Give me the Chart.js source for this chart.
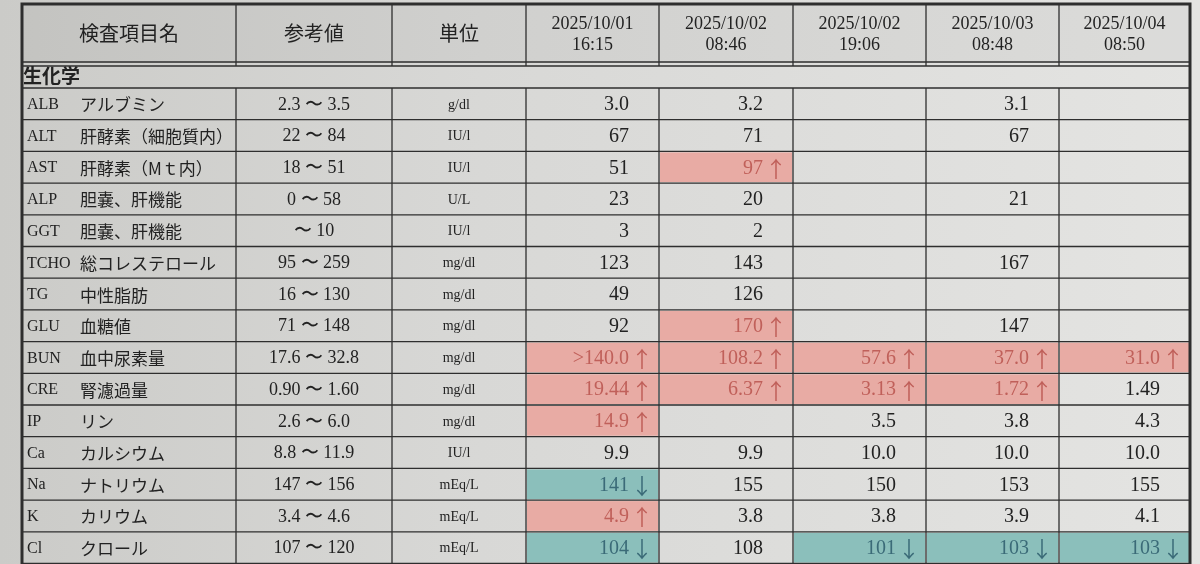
<!DOCTYPE html>
<html><head><meta charset="utf-8">
<script src="https://cdn.jsdelivr.net/npm/chart.js@4/dist/chart.umd.min.js"></script>
<style>
html,body{margin:0;padding:0;background:#dcdcda;}
#wrap{width:1200px;height:564px;background:linear-gradient(90deg,#cbcbc8 0%,#d8d8d6 40%,#e4e4e2 100%);}
</style></head><body>
<div id="wrap"><canvas id="c" width="1200" height="564"></canvas></div>
<script>
// ---- data ----
const headerLabels = ['検査項目名','参考値','単位'];
const dateLabels = [['2025/10/01','16:15'],['2025/10/02','08:46'],['2025/10/02','19:06'],['2025/10/03','08:48'],['2025/10/04','08:50']];
const sectionTitle = '生化学';
const codes = ['ALB','ALT','AST','ALP','GGT','TCHO','TG','GLU','BUN','CRE','IP','Ca','Na','K','Cl'];
const names = ['アルブミン','肝酵素（細胞質内）','肝酵素（Mｔ内）','胆嚢、肝機能','胆嚢、肝機能','総コレステロール','中性脂肪','血糖値','血中尿素量','腎濾過量','リン','カルシウム','ナトリウム','カリウム','クロール'];
const refRanges = ['2.3 〜 3.5','22 〜 84','18 〜 51','0 〜 58','〜 10','95 〜 259','16 〜 130','71 〜 148','17.6 〜 32.8','0.90 〜 1.60','2.6 〜 6.0','8.8 〜 11.9','147 〜 156','3.4 〜 4.6','107 〜 120'];
const units = ['g/dl','IU/l','IU/l','U/L','IU/l','mg/dl','mg/dl','mg/dl','mg/dl','mg/dl','mg/dl','IU/l','mEq/L','mEq/L','mEq/L'];
const values1 = ['3.0','67','51','23','3','123','49','92','>140.0','19.44','14.9','9.9','141','4.9','104'];
const values2 = ['3.2','71','97','20','2','143','126','170','108.2','6.37','','9.9','155','3.8','108'];
const values3 = ['','','','','','','','','57.6','3.13','3.5','10.0','150','3.8','101'];
const values4 = ['3.1','67','','21','','167','','147','37.0','1.72','3.8','10.0','153','3.9','103'];
const values5 = ['','','','','','','','','31.0','1.49','4.3','10.0','155','4.1','103'];
const flags1 = ['','','','','','','','','H','H','H','','L','H','L'];
const flags2 = ['','','H','','','','','H','H','H','','','','',''];
const flags3 = ['','','','','','','','','H','H','','','','','L'];
const flags4 = ['','','','','','','','','H','H','','','','','L'];
const flags5 = ['','','','','','','','','H','','','','','','L'];
const valueCols = [values1,values2,values3,values4,values5];
const flagCols = [flags1,flags2,flags3,flags4,flags5];

// ---- layout (style) ----
const colEdges = [22,236,392,526,659,793,926,1059,1190];
const headerTop = 4, headerBottom = 62, sectionBottom = 88, rowH = 31.7;
const PINK='#e8aba4', TEAL='#8bbfbb', RED_TXT='#c0605a', TEAL_TXT='#3b6b78', INK='#222';
const SERIF='"Liberation Serif","DejaVu Serif",serif', JP='"Noto Sans CJK JP",sans-serif';

const tablePlugin = {
  id:'table',
  beforeDatasetsDraw(chart){
    const {ctx, scales:{x,y}} = chart;
    const X=v=>x.getPixelForValue(v), Y=v=>y.getPixelForValue(v);
    const rowTop=i=>sectionBottom+i*rowH;
    ctx.save();
    ctx.fillStyle='rgba(0,0,0,0.035)';
    ctx.fillRect(X(colEdges[0]),Y(headerTop),X(colEdges[8])-X(colEdges[0]),Y(headerBottom)-Y(headerTop));
    for(let c=0;c<5;c++){
      flagCols[c].forEach((f,i)=>{
        if(!f) return;
        ctx.fillStyle = f==='H'?PINK:TEAL;
        const x0=X(colEdges[3+c]), x1=X(colEdges[4+c]);
        ctx.fillRect(x0+1,Y(rowTop(i))+1,x1-x0-2,Y(rowTop(i+1))-Y(rowTop(i))-2);
      });
    }
    ctx.strokeStyle='#2e2e2e'; ctx.lineWidth=1.3;
    for(let i=0;i<=15;i++){ctx.beginPath();ctx.moveTo(X(colEdges[0]),Y(rowTop(i)));ctx.lineTo(X(colEdges[8]),Y(rowTop(i)));ctx.stroke();}
    ctx.beginPath();ctx.moveTo(X(colEdges[0]),Y(headerBottom)+4);ctx.lineTo(X(colEdges[8]),Y(headerBottom)+4);ctx.stroke();
    ctx.beginPath();ctx.moveTo(X(colEdges[0]),Y(headerBottom));ctx.lineTo(X(colEdges[8]),Y(headerBottom));ctx.stroke();
    colEdges.forEach((e,k)=>{
      if(k===0||k===8) return;
      ctx.beginPath();ctx.moveTo(X(e),Y(headerTop));ctx.lineTo(X(e),Y(headerBottom)+4);ctx.stroke();
      ctx.beginPath();ctx.moveTo(X(e),Y(sectionBottom));ctx.lineTo(X(e),Y(rowTop(15)));ctx.stroke();
    });
    ctx.lineWidth=3;
    ctx.strokeRect(X(colEdges[0]),Y(headerTop),X(colEdges[8])-X(colEdges[0]),Y(rowTop(15))-Y(headerTop)+4);
    ctx.fillStyle=INK; ctx.textAlign='center'; ctx.textBaseline='middle';
    ctx.font='20px '+JP;
    headerLabels.forEach((t,k)=>ctx.fillText(t,(X(colEdges[k])+X(colEdges[k+1]))/2,Y(33)));
    ctx.font='18px '+SERIF;
    dateLabels.forEach((d,k)=>{
      const cx=(X(colEdges[3+k])+X(colEdges[4+k]))/2;
      ctx.fillText(d[0],cx,Y(24)); ctx.fillText(d[1],cx,Y(45));
    });
    ctx.textAlign='left'; ctx.font='bold 19px '+JP;
    ctx.fillText(sectionTitle,X(colEdges[0])+1,Y(76));
    for(let i=0;i<15;i++){
      const cy=Y(rowTop(i)+rowH/2+1);
      ctx.fillStyle=INK; ctx.textAlign='left';
      ctx.font='16px '+SERIF; ctx.fillText(codes[i],X(colEdges[0])+5,cy);
      ctx.font='17px '+JP; ctx.fillText(names[i],X(colEdges[0])+58,cy);
      ctx.textAlign='center';
      ctx.font='18px '+SERIF; ctx.fillText(refRanges[i],(X(colEdges[1])+X(colEdges[2]))/2,cy);
      ctx.font='14px '+SERIF; ctx.fillText(units[i],(X(colEdges[2])+X(colEdges[3]))/2,cy);
      for(let c=0;c<5;c++){
        const v=valueCols[c][i], f=flagCols[c][i]; if(!v) continue;
        const xr=X(colEdges[4+c]);
        ctx.fillStyle = f==='H'?RED_TXT:(f==='L'?TEAL_TXT:INK);
        ctx.textAlign='right'; ctx.font='20px '+SERIF;
        ctx.fillText(v,xr-30,cy);
        if(f){ctx.textAlign='center'; ctx.font='22px '+JP; ctx.fillText(f==='H'?'↑':'↓',xr-17,cy);}
      }
    }
    ctx.restore();
  }
};

new Chart(document.getElementById('c'),{
  type:'scatter',
  data:{datasets:[{data:[],pointRadius:0}]},
  options:{
    responsive:false, animation:false,
    layout:{padding:0},
    plugins:{legend:{display:false},tooltip:{enabled:false}},
    scales:{
      x:{type:'linear',min:0,max:1200,display:false},
      y:{type:'linear',min:0,max:564,reverse:true,display:false}
    }
  },
  plugins:[tablePlugin]
});
</script>
</body></html>
